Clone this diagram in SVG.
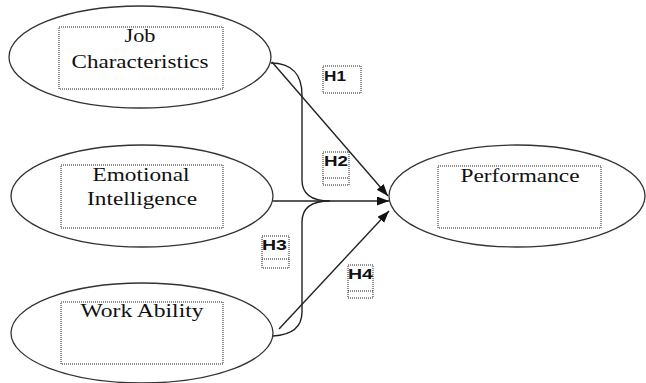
<svg xmlns="http://www.w3.org/2000/svg" width="646" height="383" viewBox="0 0 646 383">
<defs>
<style>
.node ellipse{fill:#fff;stroke:#333;stroke-width:1.3}
.box{fill:none;stroke:#222;stroke-width:1;stroke-dasharray:1 1}
.lbl{font-family:"Liberation Serif","Times New Roman",serif;font-size:19px;fill:#111;text-anchor:middle}
.h{font-family:"Liberation Sans",Arial,sans-serif;font-size:14px;font-weight:bold;fill:#111}
.conn path{fill:none;stroke:#222;stroke-width:1.4}
</style>
<marker id="arr" markerUnits="userSpaceOnUse" markerWidth="13" markerHeight="10" refX="12" refY="4.5" orient="auto">
<path d="M0,0 L12,4.5 L0,9 z" fill="#111"/>
</marker>
</defs>
<rect width="646" height="383" fill="#fff"/>
<g id="job" class="node">
<ellipse cx="140" cy="57" rx="131" ry="51"/>
<rect class="box" x="59" y="27" width="164" height="62"/>
<text class="lbl" x="140" y="42" textLength="31" lengthAdjust="spacingAndGlyphs">Job</text>
<text class="lbl" x="140" y="68" textLength="137" lengthAdjust="spacingAndGlyphs">Characteristics</text>
</g>
<g id="emotional" class="node">
<ellipse cx="142" cy="196" rx="131" ry="51"/>
<rect class="box" x="61" y="165" width="162" height="63"/>
<text class="lbl" x="141" y="181" textLength="97" lengthAdjust="spacingAndGlyphs">Emotional</text>
<text class="lbl" x="142" y="205" textLength="110" lengthAdjust="spacingAndGlyphs">Intelligence</text>
</g>
<g id="work" class="node">
<ellipse cx="142" cy="333" rx="131" ry="50"/>
<rect class="box" x="61" y="302" width="162" height="62"/>
<text class="lbl" x="142" y="317" textLength="123" lengthAdjust="spacingAndGlyphs">Work Ability</text>
</g>
<g id="performance" class="node">
<ellipse cx="517" cy="196" rx="128" ry="51"/>
<rect class="box" x="438" y="166" width="163" height="62"/>
<text class="lbl" x="520" y="182" textLength="119" lengthAdjust="spacingAndGlyphs">Performance</text>
</g>
<g id="connectors" class="conn">
<path d="M271,63 C292,63 302,75 302,95 L302,180 C302,194 312,201 330,201 C312,201 302,208 302,222 L302,312 C302,328 290,335 273,336"/>
<path d="M273,201 L389,201" marker-end="url(#arr)"/>
<path d="M272,62 L388,196" marker-end="url(#arr)"/>
<path d="M279,329 L389,211" marker-end="url(#arr)"/>
</g>
<g id="h1">
<rect class="box" x="323" y="66" width="38" height="27"/>
<text class="h" x="324" y="81" textLength="22" lengthAdjust="spacingAndGlyphs">H1</text>
</g>
<g id="h2">
<rect class="box" x="323" y="152" width="26" height="33"/>
<path class="box" d="M323,178 H349"/>
<text class="h" x="324" y="166" textLength="24" lengthAdjust="spacingAndGlyphs">H2</text>
</g>
<g id="h3">
<rect class="box" x="262" y="236" width="27" height="32"/>
<path class="box" d="M262,259 H289"/>
<text class="h" x="262" y="250" textLength="25" lengthAdjust="spacingAndGlyphs">H3</text>
</g>
<g id="h4">
<rect class="box" x="348" y="265" width="25" height="33"/>
<path class="box" d="M348,291 H373"/>
<text class="h" x="348" y="279" textLength="25" lengthAdjust="spacingAndGlyphs">H4</text>
</g>
</svg>
